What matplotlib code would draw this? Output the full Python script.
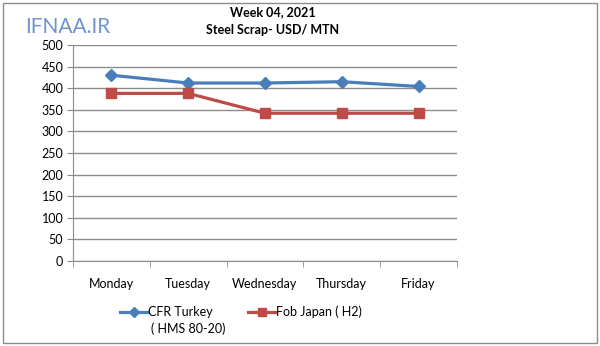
import matplotlib
matplotlib.use("Agg")
import matplotlib.pyplot as plt
from matplotlib.lines import Line2D
from matplotlib.patches import Rectangle

days = ["Monday", "Tuesday", "Wednesday", "Thursday", "Friday"]
cfr_turkey = [430, 412, 412, 415, 404]
fob_japan = [388, 388, 342, 342, 342]

BLUE = "#4a7ebb"
RED = "#be4b48"
GRID = "#8c8c8c"

plt.rcParams["font.family"] = ["Lato", "DejaVu Sans"]

fig = plt.figure(figsize=(6.0, 3.46), dpi=100)
ax = fig.add_axes([73 / 600, 1 - 261 / 346, 384 / 600, 216 / 346])

x = list(range(len(days)))
ax.plot(x, cfr_turkey, color=BLUE, lw=2.3, marker="D", ms=6, zorder=3)
ax.plot(x, fob_japan, color=RED, lw=2.3, marker="s", ms=7, zorder=3)

ax.set_xlim(-0.5, len(days) - 0.5)
ax.set_ylim(0, 500)
ax.set_yticks(range(0, 501, 50))
ax.tick_params(axis="y", labelsize=9, length=4, color=GRID, pad=3)
ax.set_xticks(x)
ax.set_xticklabels(days)
ax.tick_params(axis="x", which="major", length=0, labelsize=9, pad=12)
ax.set_xticks([i - 0.5 for i in range(len(days) + 1)], minor=True)
ax.tick_params(axis="x", which="minor", length=4, color=GRID, direction="out")
ax.yaxis.grid(True, color=GRID, lw=1)
ax.set_axisbelow(True)
for side in ("top", "right"):
    ax.spines[side].set_visible(False)
for side in ("left", "bottom"):
    ax.spines[side].set_color(GRID)

fig.text(0.455, 1 - 12 / 346, "Week 04, 2021", ha="center", va="center",
         fontsize=9, fontweight="bold")
fig.text(0.455, 1 - 30 / 346, "Steel Scrap- USD/ MTN", ha="center", va="center",
         fontsize=9, fontweight="bold")
fig.text(25 / 600, 1 - 27 / 346, "IFNAA.IR", ha="left", va="center",
         fontsize=15, color="#6f93cc")

# legend drawn by hand in figure coords
fig.add_artist(Line2D([120 / 600, 147 / 600], [1 - 312 / 346] * 2, color=BLUE,
                      lw=2.3, transform=fig.transFigure))
fig.add_artist(Line2D([133.5 / 600], [1 - 312 / 346], color=BLUE, marker="D", ms=5,
                      transform=fig.transFigure))
fig.text(148 / 600, 1 - 312 / 346, "CFR Turkey", va="center", fontsize=9)
fig.text(151 / 600, 1 - 329 / 346, "( HMS 80-20)", va="center", fontsize=9)
fig.add_artist(Line2D([248 / 600, 275 / 600], [1 - 312 / 346] * 2, color=RED,
                      lw=2.3, transform=fig.transFigure))
fig.add_artist(Line2D([261.5 / 600], [1 - 312 / 346], color=RED, marker="s", ms=6,
                      transform=fig.transFigure))
fig.text(276 / 600, 1 - 312 / 346, "Fob Japan ( H2)", va="center", fontsize=9)

fig.add_artist(Rectangle((3 / 600, 3 / 346), 594 / 600, 340 / 346, fill=False,
                         edgecolor="#8c8c8c", lw=1, transform=fig.transFigure))

fig.savefig("out.png", dpi=100)
